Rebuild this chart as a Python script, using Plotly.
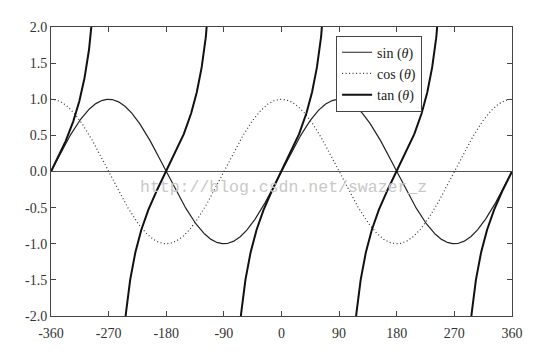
import numpy as np
import plotly.graph_objects as go

# Angle grid in degrees (the chart plots the trig functions themselves)
theta_deg = np.linspace(-360, 360, 1441)
sin_vals = np.sin(np.radians(theta_deg))
cos_vals = np.cos(np.radians(theta_deg))
tan_raw = np.tan(np.radians(theta_deg))
tan_vals = [None if abs(c) < 1e-9 else t for t, c in zip(tan_raw, cos_vals)]

x_ticks = [-360, -270, -180, -90, 0, 90, 180, 270, 360]
x_tick_labels = ["-360", "-270", "-180", "-90", "0", "90", "180", "270", "360"]
y_ticks = [-2.0, -1.5, -1.0, -0.5, 0.0, 0.5, 1.0, 1.5, 2.0]
y_tick_labels = ["-2.0", "-1.5", "-1.0", "-0.5", "0.0", "0.5", "1.0", "1.5", "2.0"]

series_names = ["sin (<i>θ</i>)", "cos (<i>θ</i>)", "tan (<i>θ</i>)"]

FONT = "Liberation Serif"

fig = go.Figure()
fig.add_trace(go.Scatter(x=theta_deg, y=sin_vals, mode="lines", name=series_names[0],
                         line=dict(color="#222222", width=1.2)))
fig.add_trace(go.Scatter(x=theta_deg, y=cos_vals, mode="lines", name=series_names[1],
                         line=dict(color="#333333", width=1.2, dash="1px,2.5px")))
fig.add_trace(go.Scatter(x=theta_deg, y=tan_vals, mode="lines", name=series_names[2],
                         line=dict(color="#111111", width=2.0), connectgaps=False))

axis_common = dict(
    showgrid=False, showline=True, linecolor="#444444", linewidth=1,
    mirror="ticks", ticks="inside", ticklen=5, tickcolor="#444444", tickwidth=1,
    tickfont=dict(family=FONT, size=14, color="#333333"),
)

fig.update_xaxes(range=[-360, 360], tickvals=x_ticks, ticktext=x_tick_labels,
                 zeroline=False, ticklabelstandoff=4, **axis_common)
fig.update_yaxes(range=[-2, 2], tickvals=y_ticks, ticktext=y_tick_labels,
                 zeroline=True, zerolinecolor="#555555", zerolinewidth=1,
                 **axis_common)

fig.add_annotation(text="http://blog.csdn.net/swazer_z", xref="paper", yref="paper",
                   x=0.504, y=0.443, showarrow=False,
                   font=dict(family="Liberation Mono", size=16.5, color="#c8c8c8"))

fig.update_layout(
    width=535, height=345,
    margin=dict(l=43, r=31, t=18, b=36),
    plot_bgcolor="white", paper_bgcolor="white",
    showlegend=True,
    legend=dict(x=0.805, y=0.97, xanchor="right", yanchor="top",
                bordercolor="#444444", borderwidth=1, bgcolor="white",
                font=dict(family=FONT, size=14, color="#222222"),
                itemwidth=30, tracegroupgap=0),
)

fig.write_html("out.html")
